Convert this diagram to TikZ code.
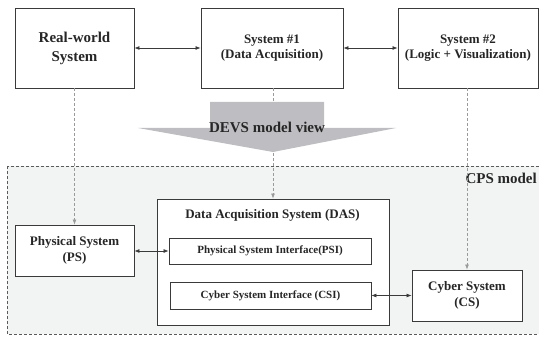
\documentclass[tikz,border=0pt]{standalone}
\usepackage{fontspec}
\setmainfont{Liberation Serif}
\usetikzlibrary{arrows.meta}
\definecolor{inkc}{HTML}{262626}
\definecolor{framec}{HTML}{3A3A3A}
\definecolor{zonec}{HTML}{F2F3F3}
\definecolor{zoneline}{HTML}{5A5A5A}
\definecolor{linkc}{HTML}{9A9A9A}
\definecolor{viewc}{HTML}{BEBEC2}
\tikzset{
  blk/.style={draw=framec, line width=0.9pt, fill=white, text=inkc, align=center,
    inner sep=0pt, font=\bfseries\fontsize{13}{15}\selectfont},
  bigblk/.style={blk, font=\bfseries\fontsize{15}{19}\selectfont},
  subblk/.style={blk, line width=0.8pt, font=\bfseries\fontsize{11}{13}\selectfont},
  link/.style={draw=framec, line width=0.7pt, {Latex[length=5pt,width=4pt]}-{Latex[length=5pt,width=4pt]}},
  maplink/.style={draw=linkc, line width=0.7pt, dash pattern=on 3pt off 2pt, -{Latex[length=5pt,width=4pt]}},
  lbl/.style={text=inkc, inner sep=0pt, font=\bfseries\fontsize{15}{18}\selectfont}
}
\begin{document}
\begin{tikzpicture}[x=1pt,y=-1pt]
\path[use as bounding box] (0,0) rectangle (539,337);
\clip (0,0) rectangle (539,337);

% CPS model zone
\draw[fill=zonec, draw=zoneline, line width=0.8pt, dash pattern=on 3pt off 2pt]
  (7,166) rectangle (545,334);
\node[lbl, anchor=east] (cps) at (537,178) {CPS model};

% top row
\node[bigblk, minimum width=119pt, minimum height=80pt] (real) at (74.5,48) {Real-world\\System};
\node[blk, minimum width=142pt, minimum height=80pt] (sys1) at (272,48) {System \#1\\(Data Acquisition)};
\node[blk, minimum width=140pt, minimum height=80pt] (sys2) at (468,48) {System \#2\\(Logic + Visualization)};

\draw[link] (real.east) -- (sys1.west);
\draw[link] (sys1.east) -- (sys2.west);

% model layer
\node[blk, minimum width=119pt, minimum height=51pt, font=\bfseries\fontsize{13}{16}\selectfont]
  (ps) at (74.5,250.5) {Physical System\\(PS)};
\node[blk, minimum width=232pt, minimum height=126pt] (das) at (273,262) {};
\node[blk, draw=none, fill=none] (dastitle) at (272.5,215) {Data Acquisition System (DAS)};
\node[subblk, minimum width=202pt, minimum height=26pt] (psi) at (270,251) {Physical System Interface(PSI)};
\node[subblk, minimum width=201pt, minimum height=27pt] (csi) at (270.5,295.5) {Cyber System Interface (CSI)};
\node[blk, minimum width=110pt, minimum height=51pt, font=\bfseries\fontsize{13}{16}\selectfont]
  (cs) at (467,295.5) {Cyber System\\(CS)};

\draw[link] (ps.east |- psi) -- (psi.west);
\draw[link] (csi.east) -- (cs.west |- csi);

% mapping from the real layer to the model layer
\draw[maplink] (real.south) -- (ps.north);
\draw[maplink] (sys1.south -| das.north) -- (das.north);
\draw[maplink] (sys2.south -| cs.north) -- (cs.north);

% DEVS model view arrow
\fill[viewc] (210,102) -- (324,102) -- (324,128) -- (396,128) -- (273,152)
  -- (138,128) -- (210,128) -- cycle;
\node[lbl] (devs) at (267,127) {DEVS model view};
\end{tikzpicture}
\end{document}
